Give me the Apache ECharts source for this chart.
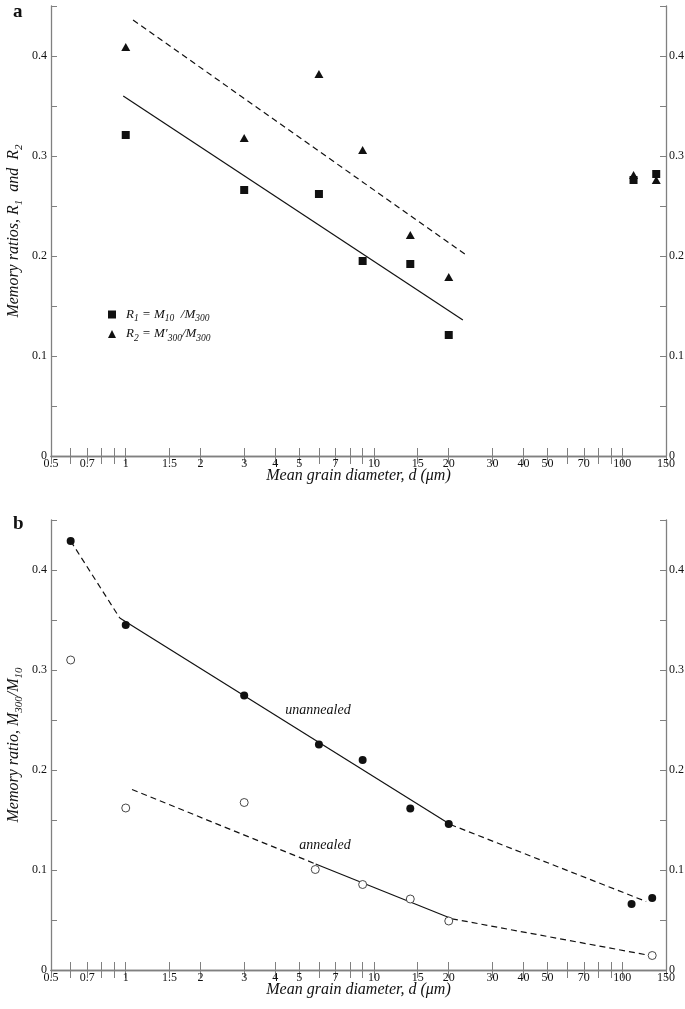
<!DOCTYPE html>
<html><head><meta charset="utf-8">
<script src="https://cdn.jsdelivr.net/npm/echarts@6/dist/echarts.min.js"></script>
<style>html,body{margin:0;padding:0;background:#fff}#c{width:685px;height:1009px}</style>
</head><body><div id="c"></div>
<script>
// ---------- data (panel a) ----------
const diamA = [1, 3, 6, 9, 14, 20, 111, 137];
const ratioR1 = [0.321, 0.266, 0.262, 0.195, 0.192, 0.121, 0.276, 0.282];
const ratioR2 = [0.409, 0.318, 0.382, 0.306, 0.221, 0.179, 0.281, 0.276];
const fitR1D = [0.977, 22.8];
const fitR1V = [0.360, 0.136];
const fitR2D = [1.07, 23.5];
const fitR2V = [0.436, 0.201];
// ---------- data (panel b) ----------
const diamUn = [0.6, 1, 3, 6, 9, 14, 20, 109, 132];
const ratioUn = [0.429, 0.345, 0.2745, 0.2255, 0.210, 0.1615, 0.146, 0.066, 0.072];
const diamAn = [0.6, 1, 3, 5.8, 9, 14, 20, 132];
const ratioAn = [0.310, 0.162, 0.1675, 0.1005, 0.0855, 0.071, 0.049, 0.0145];
const unDash1D = [0.6, 0.946], unDash1V = [0.429, 0.352];
const unSolidD = [0.946, 20.3], unSolidV = [0.352, 0.1455];
const unDash2D = [20.3, 124.8], unDash2V = [0.1455, 0.0685];
const anDash1D = [1.06, 5.82], anDash1V = [0.1805, 0.106];
const anSolidD = [5.82, 20.6], anSolidV = [0.106, 0.0512];
const anDash2D = [20.6, 127.6], anDash2V = [0.0512, 0.0148];
// ---------- ticks ----------
const xTickVals = [0.5,0.6,0.7,0.8,0.9,1,1.5,2,3,4,5,6,7,8,9,10,15,20,30,40,50,60,70,80,90,100,150];
const xLabelVals = [0.5,0.7,1,1.5,2,3,4,5,7,10,15,20,30,40,50,70,100,150];
const yMax = 0.45, yStep = 0.05;

const FONT = 'Liberation Serif';
const INK = '#111';
const AXC = '#808080';
const zip = (a, b) => a.map((v, i) => [v, b[i]]);

function xAx(grid, top) {
  return {
    type: 'log', logBase: 10, gridIndex: grid, position: top ? 'top' : 'bottom',
    min: 0.5, max: 150,
    axisLine: { show: true, lineStyle: { color: AXC, width: 1.3 } },
    axisTick: { show: true, inside: true, length: 8, customValues: xTickVals, lineStyle: { color: AXC, width: 1 } },
    minorTick: { show: false }, splitLine: { show: false },
    axisLabel: top ? { show: false } : {
      show: true, customValues: xLabelVals, margin: 2, color: INK,
      fontFamily: FONT, fontSize: 12,
      formatter: v => String(+Number(v).toPrecision(6))
    },
    name: top ? '' : 'Mean grain diameter, d (\u03bcm)',
    nameLocation: 'middle', nameGap: 12, nameMoveOverlap: false,
    nameTextStyle: { fontFamily: FONT, fontStyle: 'italic', fontSize: 16, color: INK }
  };
}
function yAx(grid, right, name) {
  return {
    type: 'value', gridIndex: grid, position: right ? 'right' : 'left',
    min: 0, max: yMax, interval: yStep,
    axisLine: { show: true, lineStyle: { color: AXC, width: 1.3 } },
    axisTick: { show: true, inside: true, length: 6, lineStyle: { color: AXC, width: 1 } },
    splitLine: { show: false },
    axisLabel: {
      show: true, margin: right ? 3 : 4, color: INK, fontFamily: FONT, fontSize: 12,
      formatter: v => { const k = Math.round(v / yStep); if (k % 2) return ''; return k === 0 ? '0' : (k * yStep).toFixed(1); }
    },
    name: right ? '' : name, nameLocation: 'middle', nameGap: 26, nameMoveOverlap: false,
    nameTextStyle: {
      color: INK,
      rich: {
        i: { fontFamily: FONT, fontStyle: 'italic', fontSize: 16, lineHeight: 22, color: INK },
        s: { fontFamily: FONT, fontStyle: 'italic', fontSize: 11, lineHeight: 14, verticalAlign: 'bottom', color: INK }
      }
    }
  };
}
function seg(d, v, xi, yi, dashed) {
  return {
    type: 'line', xAxisIndex: xi, yAxisIndex: yi, data: zip(d, v), symbol: 'none',
    lineStyle: { color: INK, width: 1.2, type: dashed ? [6, 4] : 'solid' }, silent: true, z: 2
  };
}

const chart = echarts.init(document.getElementById('c'), null, { renderer: 'canvas' });
chart.setOption({
  animation: false,
  backgroundColor: '#fff',
  grid: [
    { left: 51, right: 19, top: 6, height: 450, containLabel: false, outerBoundsMode: 'none' },
    { left: 51, right: 19, top: 520, height: 450, containLabel: false, outerBoundsMode: 'none' }
  ],
  xAxis: [xAx(0, false), xAx(0, true), xAx(1, false), xAx(1, true)],
  yAxis: [
    yAx(0, false, '{i|Memory ratios, R}{s|1}{i|  and  R}{s|2}'), yAx(0, true),
    yAx(1, false, '{i|Memory ratio, M}{s|300}{i|/M}{s|10}'), yAx(1, true)
  ],
  legend: {
    data: ['R1', 'R2'], orient: 'vertical', left: 103, top: 303,
    itemWidth: 8, itemHeight: 8, itemGap: 4,
    formatter: n => n === 'R1'
      ? '{t|R}{u|1}{t| = M}{u|10}{t|  /M}{u|300}'
      : '{t|R}{u|2}{t| = M\u2032}{u|300}{t|/M}{u|300}',
    textStyle: {
      padding: [0, 0, 0, 5],
      rich: {
        t: { fontFamily: FONT, fontStyle: 'italic', fontSize: 13, lineHeight: 18, color: INK },
        u: { fontFamily: FONT, fontStyle: 'italic', fontSize: 9.5, lineHeight: 12, verticalAlign: 'bottom', color: INK }
      }
    }
  },
  graphic: [
    { type: 'text', left: 13, top: 3, style: { text: 'a', font: 'bold 19px "Liberation Serif"', fill: INK } },
    { type: 'text', left: 13, top: 515, style: { text: 'b', font: 'bold 19px "Liberation Serif"', fill: INK } },
    { type: 'text', x: 318, y: 710, style: { text: 'unannealed', font: 'italic 14px "Liberation Serif"', fill: INK, align: 'center', verticalAlign: 'middle' } },
    { type: 'text', x: 325, y: 845, style: { text: 'annealed', font: 'italic 14px "Liberation Serif"', fill: INK, align: 'center', verticalAlign: 'middle' } }
  ],
  series: [
    { name: 'R1', type: 'scatter', xAxisIndex: 0, yAxisIndex: 0, data: zip(diamA, ratioR1),
      symbol: 'rect', symbolSize: 8, itemStyle: { color: INK, opacity: 1 }, z: 3 },
    { name: 'R2', type: 'scatter', xAxisIndex: 0, yAxisIndex: 0, data: zip(diamA, ratioR2),
      symbol: 'triangle', symbolSize: [9, 8], itemStyle: { color: INK, opacity: 1 }, z: 3 },
    seg(fitR1D, fitR1V, 0, 0, false),
    seg(fitR2D, fitR2V, 0, 0, true),
    { name: 'unannealed', type: 'scatter', xAxisIndex: 2, yAxisIndex: 2, data: zip(diamUn, ratioUn),
      symbol: 'circle', symbolSize: 8, itemStyle: { color: INK, opacity: 1 }, z: 3 },
    { name: 'annealed', type: 'scatter', xAxisIndex: 2, yAxisIndex: 2, data: zip(diamAn, ratioAn),
      symbol: 'circle', symbolSize: 8, itemStyle: { color: '#fff', borderColor: '#333', borderWidth: 0.9, opacity: 1 }, z: 3 },
    seg(unDash1D, unDash1V, 2, 2, true),
    seg(unSolidD, unSolidV, 2, 2, false),
    seg(unDash2D, unDash2V, 2, 2, true),
    seg(anDash1D, anDash1V, 2, 2, true),
    seg(anSolidD, anSolidV, 2, 2, false),
    seg(anDash2D, anDash2V, 2, 2, true)
  ]
});
</script>
</body></html>
